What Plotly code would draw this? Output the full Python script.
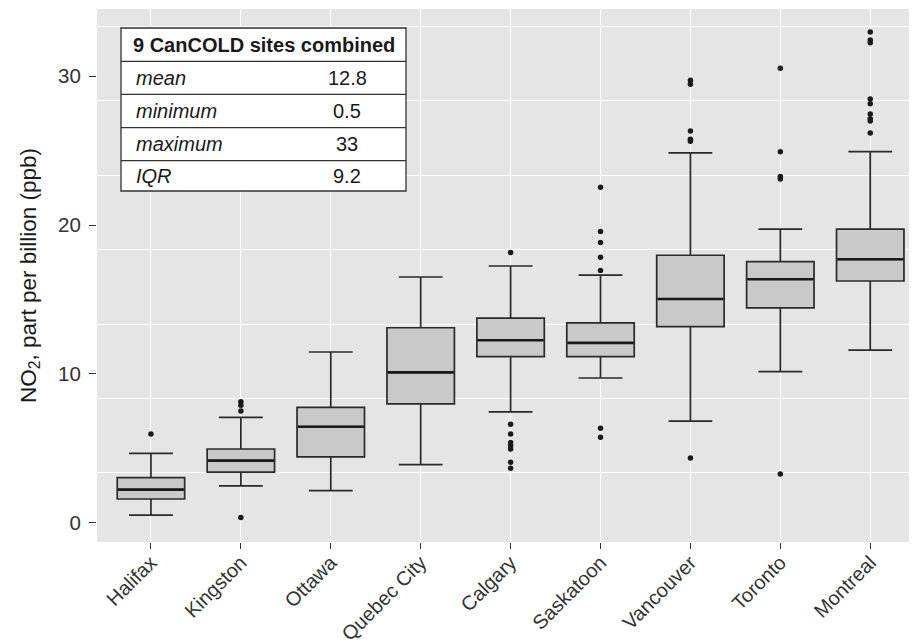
import plotly.graph_objects as go

cities = ["Halifax", "Kingston", "Ottawa", "Quebec City", "Calgary",
          "Saskatoon", "Vancouver", "Toronto", "Montreal"]
lower_whisker = [0.5, 2.47, 2.15, 3.9, 7.44, 9.72, 6.83, 10.15, 11.59]
q1_vals = [1.59, 3.39, 4.42, 7.98, 11.16, 11.16, 13.17, 14.43, 16.24]
median_vals = [2.22, 4.17, 6.45, 10.1, 12.26, 12.08, 15.03, 16.36, 17.7]
q3_vals = [3.02, 4.95, 7.75, 13.1, 13.74, 13.42, 17.97, 17.54, 19.72]
upper_whisker = [4.66, 7.08, 11.47, 16.51, 17.25, 16.63, 24.85, 19.72, 24.93]
outliers = {
    "Halifax": [5.96],
    "Kingston": [7.51, 7.89, 8.13, 0.34],
    "Ottawa": [],
    "Quebec City": [],
    "Calgary": [18.15, 6.61, 5.96, 5.38, 5.17, 4.95, 4.06, 3.66],
    "Saskatoon": [22.54, 19.56, 18.82, 17.84, 16.94, 6.34, 5.74],
    "Vancouver": [29.74, 29.46, 26.32, 25.77, 25.63, 4.35],
    "Toronto": [30.54, 24.93, 23.27, 23.09, 3.27],
    "Montreal": [32.97, 32.44, 32.26, 28.47, 28.16, 27.47, 27.15, 27.0, 26.19],
}
y_ticks = [0, 10, 20, 30]
table_title = "9 CanCOLD sites combined"
table_labels = ["mean", "minimum", "maximum", "IQR"]
table_values = ["12.8", "0.5", "33", "9.2"]

FONT = "Liberation Sans, Arial, Helvetica, sans-serif"
# the page body adds an 8px offset; margins compensate for it
OFF = 8
W, H = 917, 643
ML, MR, MT, MB = 97 - OFF, OFF, 9 - OFF, 101 + OFF
PW, PH = W - ML - MR, H - MT - MB
BOXGAP = 0.25


def px(x):
    return (x - OFF - ML) / PW


def py(y):
    return (OFF + H - MB - y) / PH


fig = go.Figure()
fig.add_trace(go.Box(
    x=cities, q1=q1_vals, median=median_vals, q3=q3_vals,
    lowerfence=lower_whisker, upperfence=upper_whisker,
    boxpoints=False, fillcolor="#C9C9C9",
    line=dict(color="#2a2a2a", width=1.7), whiskerwidth=0.65,
    showlegend=False, hoverinfo="skip",
))
ox, oy = [], []
for c in cities:
    for v in outliers[c]:
        ox.append(c)
        oy.append(v)
fig.add_trace(go.Scatter(
    x=ox, y=oy, mode="markers",
    marker=dict(color="#1a1a1a", size=5.5), showlegend=False, hoverinfo="skip",
))

shapes = []
anns = []
# thicker median lines (ggplot style)
half = (1 - BOXGAP) / 2
for i, m in enumerate(median_vals):
    shapes.append(dict(type="line", xref="x", yref="y",
                       x0=i - half + 0.01, x1=i + half - 0.01, y0=m, y1=m,
                       line=dict(color="#1a1a1a", width=2.6), layer="above"))

tx0, tx1, ty0, ty1 = 121, 406, 28, 191
shapes.append(dict(type="rect", xref="paper", yref="paper",
                   x0=px(tx0), x1=px(tx1), y0=py(ty1), y1=py(ty0),
                   fillcolor="white", line=dict(color="#333333", width=1.3),
                   layer="above"))
row_edges = [28, 61.3, 94.3, 127.7, 160.7, 191]
for yy in row_edges[1:-1]:
    shapes.append(dict(type="line", xref="paper", yref="paper",
                       x0=px(tx0), x1=px(tx1), y0=py(yy), y1=py(yy),
                       line=dict(color="#333333", width=1.3), layer="above"))
anns.append(dict(text="<b>" + table_title + "</b>", xref="paper", yref="paper",
                 x=px((tx0 + tx1) / 2), y=py((row_edges[0] + row_edges[1]) / 2),
                 showarrow=False, xanchor="center", yanchor="middle",
                 font=dict(family=FONT, size=20, color="#1a1a1a")))
for i, (lab, val) in enumerate(zip(table_labels, table_values)):
    yc = (row_edges[i + 1] + row_edges[i + 2]) / 2
    anns.append(dict(text="<i>" + lab + "</i>", xref="paper", yref="paper",
                     x=px(134), y=py(yc), showarrow=False,
                     xanchor="left", yanchor="middle",
                     font=dict(family=FONT, size=20, color="#1a1a1a")))
    anns.append(dict(text=val, xref="paper", yref="paper",
                     x=px(347), y=py(yc), showarrow=False,
                     xanchor="center", yanchor="middle",
                     font=dict(family=FONT, size=20, color="#1a1a1a")))

fig.update_layout(
    width=W, height=H,
    margin=dict(l=ML, r=MR, t=MT, b=MB, pad=0, autoexpand=False),
    paper_bgcolor="white", plot_bgcolor="#E5E5E5",
    boxgap=BOXGAP, boxgroupgap=0,
    shapes=shapes, annotations=anns,
    font=dict(family=FONT, size=20, color="#333333"),
    xaxis=dict(
        type="category", range=[-0.6, 8.52], automargin=False,
        showgrid=True, gridcolor="white", gridwidth=1.2,
        ticks="outside", ticklen=6, tickwidth=1.2, tickcolor="#333333",
        ticklabelstandoff=-6,
        tickangle=-45, tickfont=dict(family=FONT, size=20, color="#333333"),
        showline=False, zeroline=False,
    ),
    yaxis=dict(
        range=[-1.3, 34.52], tickvals=y_ticks, automargin=False,
        showgrid=False, zeroline=False, showline=False,
        ticks="outside", ticklen=7, tickwidth=1.2, tickcolor="#333333",
        ticklabelstandoff=4,
        tickfont=dict(family=FONT, size=20.5, color="#333333"),
        minor=dict(tick0=3.34, dtick=5, showgrid=True, gridcolor="white",
                   gridwidth=1.2, ticks=""),
        title=dict(text="NO<sub>2</sub>, part per billion (ppb)",
                   font=dict(family=FONT, size=22.5, color="#1a1a1a"),
                   standoff=15),
    ),
)

fig.write_html("out.html")
